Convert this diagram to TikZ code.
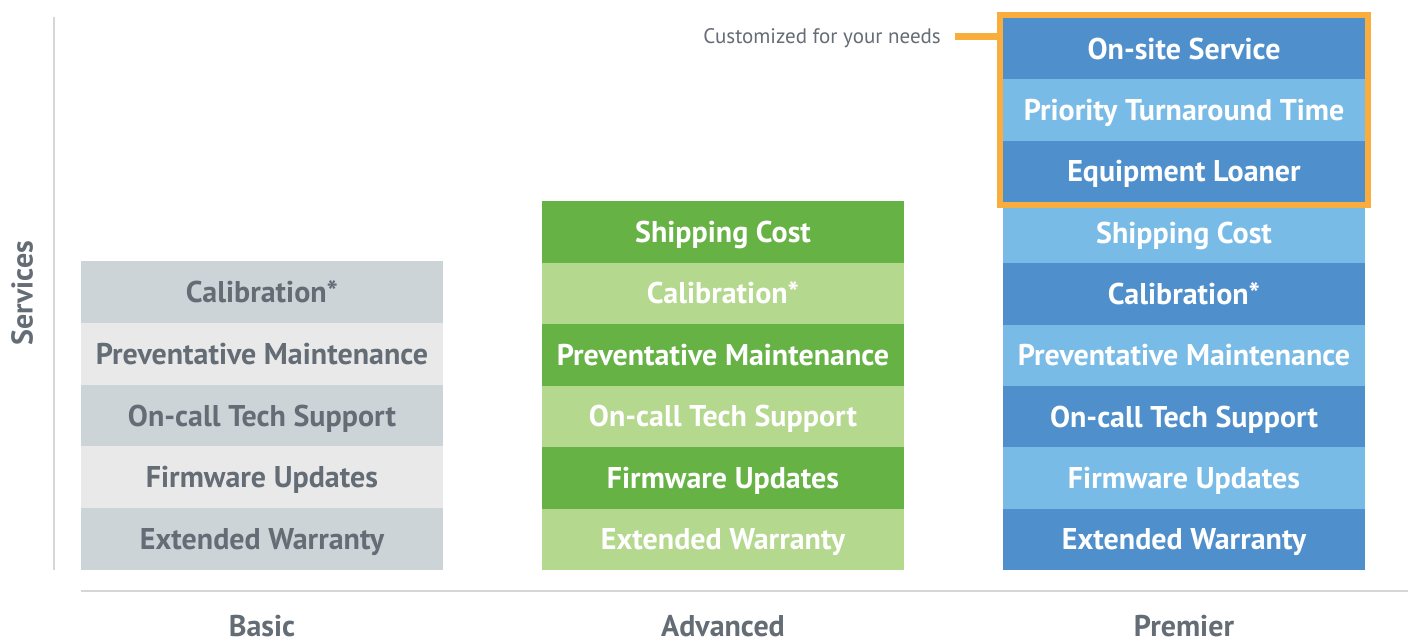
\documentclass[tikz,border=0pt]{standalone}
\usepackage{fontspec}
\setmainfont{PT Sans}
\usetikzlibrary{fit}
\definecolor{txtgray}{HTML}{646C75}
\definecolor{gdark}{HTML}{CDD4D8}
\definecolor{glight}{HTML}{E9E9EA}
\definecolor{grdark}{HTML}{66B245}
\definecolor{grlight}{HTML}{B4D88E}
\definecolor{bldark}{HTML}{4F8FCC}
\definecolor{bllight}{HTML}{79BBE7}
\definecolor{orng}{HTML}{F9AD3D}
\definecolor{axisgray}{HTML}{D3D7DA}
\tikzset{
  cell/.style={minimum width=362pt, inner sep=0pt, outer sep=0pt, text height=21pt, text depth=0pt, font=\bfseries\fontsize{30}{30}\selectfont},
  bcell/.style={cell, minimum height=61.8pt, text=txtgray},
  acell/.style={cell, minimum height=61.5pt, text=white},
  pcell/.style={cell, minimum height=61.33pt, text=white},
  axisline/.style={draw=axisgray, line width=2pt},
  catlabel/.style={anchor=base, inner sep=0pt, text depth=0pt, text=txtgray, font=\bfseries\fontsize{30}{30}\selectfont},
}
\begin{document}
\begin{tikzpicture}[x=1pt,y=-1pt]
\useasboundingbox (0,0) rectangle (1408,643);
% axes
\coordinate (ytop) at (54,17);
\coordinate (ybot) at (54,570);
\coordinate (xl) at (81,591);
\coordinate (xr) at (1408,591);
\draw[axisline] (ytop) -- (ybot);
\draw[axisline] (xl) -- (xr);
\node[rotate=90, text=txtgray, font=\bfseries\fontsize{30}{30}\selectfont] (serv) at (22,293) {Services};
% Basic
\node[bcell, fill=gdark]  (b1) at (262,291.9) {Calibration*};
\node[bcell, fill=glight] (b2) at (262,353.7) {Preventative Maintenance};
\node[bcell, fill=gdark]  (b3) at (262,415.5) {On-call Tech Support};
\node[bcell, fill=glight] (b4) at (262,477.3) {Firmware Updates};
\node[bcell, fill=gdark]  (b5) at (262,539.1) {Extended Warranty};
% Advanced
\node[acell, fill=grdark]  (a1) at (723,231.75) {Shipping Cost};
\node[acell, fill=grlight] (a2) at (723,293.25) {Calibration*};
\node[acell, fill=grdark]  (a3) at (723,354.75) {Preventative Maintenance};
\node[acell, fill=grlight] (a4) at (723,416.25) {On-call Tech Support};
\node[acell, fill=grdark]  (a5) at (723,477.75) {Firmware Updates};
\node[acell, fill=grlight] (a6) at (723,539.25) {Extended Warranty};
% Premier
\node[pcell, fill=bldark]  (p1) at (1184,48.67) {On-site Service};
\node[pcell, fill=bllight] (p2) at (1184,110) {Priority Turnaround Time};
\node[pcell, fill=bldark]  (p3) at (1184,171.33) {Equipment Loaner};
\node[pcell, fill=bllight] (p4) at (1184,232.67) {Shipping Cost};
\node[pcell, fill=bldark]  (p5) at (1184,294) {Calibration*};
\node[pcell, fill=bllight] (p6) at (1184,355.33) {Preventative Maintenance};
\node[pcell, fill=bldark]  (p7) at (1184,416.67) {On-call Tech Support};
\node[pcell, fill=bllight] (p8) at (1184,478) {Firmware Updates};
\node[pcell, fill=bldark]  (p9) at (1184,539.33) {Extended Warranty};
% custom frame
\node[draw=orng, line width=6pt, inner sep=3pt, fit=(p1)(p3)] (frame) {};
\node[anchor=east, text=txtgray, font=\fontsize{21}{21}\selectfont, inner sep=0pt, text height=14.5pt, text depth=0pt] (cust) at (941,36.5) {Customized for your needs};
\draw[orng, line width=7pt] ([xshift=14pt]cust.east) -- (frame.west |- cust.east);
% categories
\node[catlabel] (cb) at (262,636) {Basic};
\node[catlabel] (ca) at (723,636) {Advanced};
\node[catlabel] (cp) at (1184,636) {Premier};
\end{tikzpicture}
\end{document}
